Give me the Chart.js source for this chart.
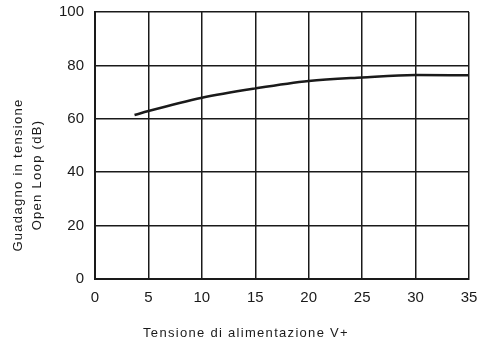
<!DOCTYPE html>
<html>
<head>
<meta charset="utf-8">
<script src="https://cdn.jsdelivr.net/npm/chart.js@4"></script>
<style>
  html, body { margin: 0; padding: 0; background: #fff; }
  #wrap { width: 480px; height: 345px; }
</style>
</head>
<body>
<div id="wrap"><canvas id="gainChart" width="480" height="345"></canvas></div>
<script>
// supply voltage (V) and open loop gain (dB)
let voltage = [3.7, 5, 10, 15, 20, 25, 30, 35];
let gain = [61.4, 62.9, 67.9, 71.4, 74.2, 75.5, 76.4, 76.3];

let xTitle = 'Tensione di alimentazione V+';
let yTitle = ['Guadagno in tensione', 'Open Loop (dB)'];

const ink = '#1a1a1a';
const font = 'Liberation Sans, Arial, Helvetica, sans-serif';

// axis titles drawn by hand so they sit where the original has them
const axisTitles = {
    id: 'axisTitles',
    afterDraw(chart) {
        const ctx = chart.ctx;
        ctx.save();
        ctx.fillStyle = ink;
        ctx.font = '13px ' + font;
        ctx.letterSpacing = '1.3px';
        ctx.textAlign = 'center';
        ctx.textBaseline = 'middle';
        ctx.fillText(xTitle, 246, 333);
        ctx.translate(0, 175);
        ctx.rotate(-Math.PI / 2);
        ctx.fillText(yTitle[0], 0, 18);
        ctx.fillText(yTitle[1], 0, 37);
        ctx.restore();
    }
};

var ctx = document.getElementById('gainChart').getContext('2d');
var gainChart = new Chart(ctx, {
    type: 'line',
    data: {
        datasets: [{
            data: voltage.map((v, i) => ({ x: v, y: gain[i] })),
            borderColor: ink,
            borderWidth: 2.5,
            pointRadius: 0,
            fill: false,
            cubicInterpolationMode: 'monotone'
        }]
    },
    options: {
        responsive: false,
        animation: false,
        layout: { padding: { top: 12, right: 11, left: 0, bottom: 0 } },
        plugins: {
            legend: { display: false },
            tooltip: { enabled: false }
        },
        scales: {
            x: {
                type: 'linear',
                min: 0,
                max: 35,
                afterFit(scale) {
                    scale.height = 66;
                    scale.paddingLeft = 0;
                    scale.paddingRight = 0;
                },
                ticks: {
                    stepSize: 5,
                    padding: 10,
                    color: ink,
                    font: { family: font, size: 15 }
                },
                grid: { color: ink, lineWidth: 1.5, drawTicks: false },
                border: { color: ink, width: 2 }
            },
            y: {
                min: 0,
                max: 100,
                afterFit(scale) {
                    scale.width = 95;
                    scale.paddingTop = 0;
                    scale.paddingBottom = 0;
                },
                ticks: {
                    stepSize: 20,
                    padding: 11,
                    color: ink,
                    font: { family: font, size: 15 }
                },
                grid: { color: ink, lineWidth: 1.5, drawTicks: false },
                border: { color: ink, width: 2 }
            }
        }
    },
    plugins: [axisTitles]
});
</script>
</body>
</html>
